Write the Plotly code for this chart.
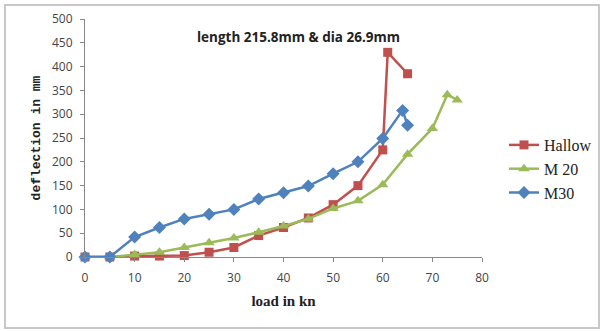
import plotly.graph_objects as go

hallow_x = [0, 5, 10, 15, 20, 25, 30, 35, 40, 45, 50, 55, 60, 61, 65]
hallow_y = [0, 0, 2, 2, 3, 10, 20, 45, 62, 82, 110, 150, 225, 430, 385]

m20_x = [0, 5, 10, 15, 20, 25, 30, 35, 40, 45, 50, 55, 60, 65, 70, 73, 75]
m20_y = [0, 0, 5, 10, 20, 30, 40, 52, 65, 80, 102, 118, 152, 216, 270, 341, 330]

m30_x = [0, 5, 10, 15, 20, 25, 30, 35, 40, 45, 50, 55, 60, 64, 65]
m30_y = [0, 0, 42, 62, 80, 90, 100, 122, 135, 149, 175, 200, 249, 308, 277]

x_ticks = [0, 10, 20, 30, 40, 50, 60, 70, 80]
y_ticks = [0, 50, 100, 150, 200, 250, 300, 350, 400, 450, 500]

fig = go.Figure()
fig.add_trace(go.Scatter(x=hallow_x, y=hallow_y, name="Hallow", mode="lines+markers",
                         line=dict(color="#C0504D", width=2.5), cliponaxis=False,
                         marker=dict(symbol="square", size=9, color="#C0504D")))
fig.add_trace(go.Scatter(x=m20_x, y=m20_y, name="M 20", mode="lines+markers",
                         line=dict(color="#9BBB59", width=2.5), cliponaxis=False,
                         marker=dict(symbol="triangle-up", size=10, color="#9BBB59")))
fig.add_trace(go.Scatter(x=m30_x, y=m30_y, name="M30", mode="lines+markers",
                         line=dict(color="#4F81BD", width=2.5), cliponaxis=False,
                         marker=dict(symbol="diamond", size=10, color="#4F81BD")))

L, R, T, B = 85, 119, 19, 74
W, H = 601, 331
pw, ph = W - L - R, H - T - B

fig.update_layout(
    width=W, height=H,
    margin=dict(l=L, r=R, t=T, b=B, autoexpand=False),
    paper_bgcolor="white", plot_bgcolor="white",
    showlegend=True,
    legend=dict(x=(504 - L) / pw, y=(H - B - 128) / ph, xanchor="left", yanchor="top",
                font=dict(family="Liberation Serif", size=16, color="#222"),
                tracegroupgap=0, itemwidth=30, bgcolor="rgba(0,0,0,0)"),
    xaxis=dict(range=[0, 80], tickvals=x_ticks, showgrid=False, zeroline=False,
               showline=True, linecolor="#888", linewidth=1, ticks="outside",
               ticklen=4, tickcolor="#888", ticklabelstandoff=6,
               tickfont=dict(family="Open Sans", size=12, color="#444"),
               title=dict(text="<b>load in kn</b>", standoff=10,
                          font=dict(family="Liberation Serif", size=15, color="#222"))),
    yaxis=dict(range=[0, 500], tickvals=y_ticks, showgrid=False, zeroline=False,
               showline=True, linecolor="#888", linewidth=1, ticks="outside",
               ticklen=4, tickcolor="#888", ticklabelstandoff=5,
               tickfont=dict(family="Open Sans", size=12, color="#444"),
               title=dict(text="<b>deflection in mm</b>", standoff=8,
                          font=dict(family="Liberation Mono", size=13, color="#222"))),
)

fig.add_annotation(x=(298 - L) / pw, y=(H - B - 26) / ph, xref="paper", yref="paper",
                   text="<b>length 215.8mm & dia 26.9mm</b>", showarrow=False,
                   font=dict(family="Open Sans", size=13.5, color="#222"))

fig.add_shape(type="rect", xref="paper", yref="paper",
              x0=(5 - L) / pw, x1=(599 - L) / pw,
              y0=(H - B - 328) / ph, y1=(H - B - 5) / ph,
              line=dict(color="#c8c8c8", width=2), layer="below")

fig.write_html("out.html")
